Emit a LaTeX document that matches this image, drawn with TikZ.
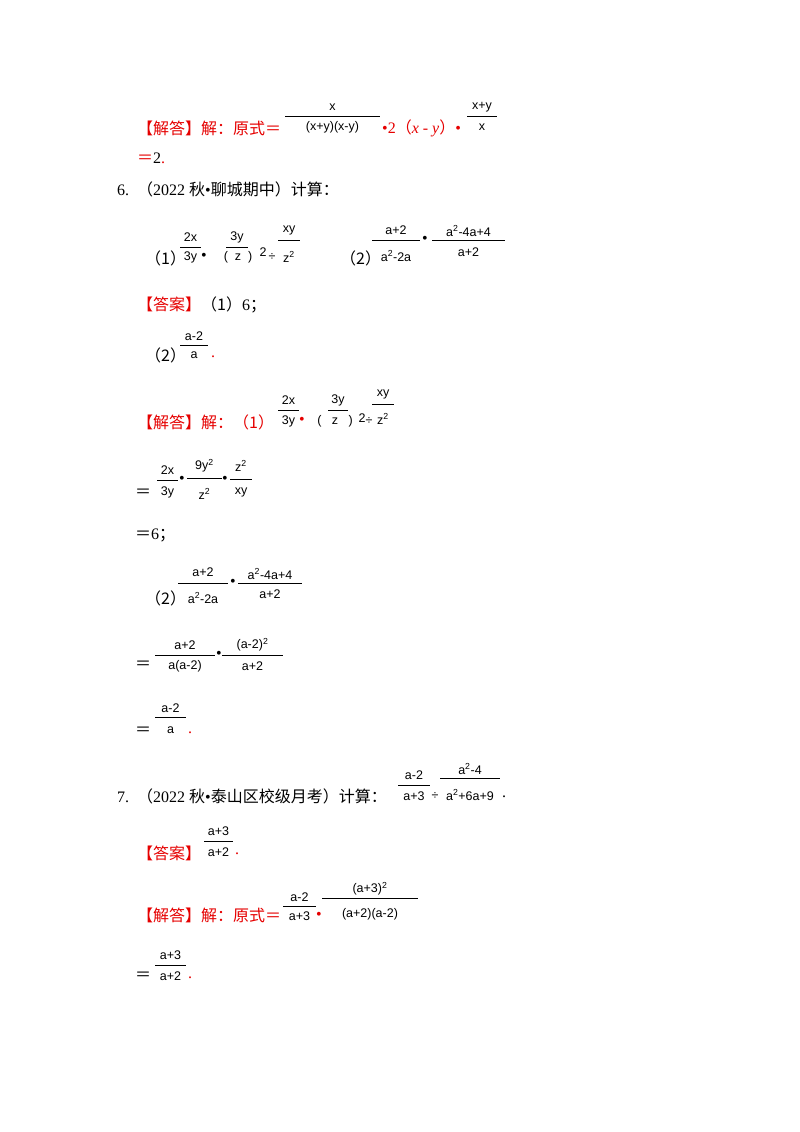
\documentclass[tikz,border=0pt]{standalone}
\usepackage{fontspec}
\setmainfont{Liberation Serif}
\newfontfamily\cjk{Noto Sans CJK SC}
\newfontfamily\frf{Liberation Sans}
\definecolor{ansred}{RGB}{230,0,0}
\newcommand\myfr[7]{%
 \node[frtext] at ({(#1+#2)/2},#3) {#6};
 \draw[frbar] (#1,#4) -- (#2,#4);
 \node[frtext] at ({(#1+#2)/2},#5) {#7};}
\newcommand\su{\textsuperscript{2}}
\begin{document}
\begin{tikzpicture}[x=1pt,y=-1pt,
 frtext/.style={inner sep=0pt,font=\frf\fontsize{12.5}{14}\selectfont},
 frbar/.style={line width=0.7pt},
 txt/.style={anchor=west,inner sep=0pt,font=\fontsize{16}{18}\selectfont},
 red/.style={text=ansred}]
\useasboundingbox[fill=white] (0,0) rectangle (800,1132);
% line 1
\node[txt,red] (l1) at (137,128) {\cjk 【解答】解：原式＝};
\myfr{285}{380}{107}{116}{127}{x}{(x+y)(x-y)}
\node[txt,red] at (382,128) {•2{\cjk（}\textit{x} - \textit{y}{\cjk）}•};
\myfr{467}{497}{107}{116}{127}{x+y}{x}
\node[txt] at (137,158) {{\color{ansred}\cjk ＝}2{\color{ansred}.}};
% problem 6
\node[txt] at (117,189) {6.\ \ {\cjk（}2022 {\cjk 秋}•{\cjk 聊城期中）计算：}};
\node[txt] at (145,258) {\cjk（1）};
\myfr{180}{201}{237}{247}{257}{2x}{3y}
\node[txt] at (201,257) {•};
\myfr{226}{248}{237}{247}{0}{3y}{}
\node[frtext] at (238,257) {( \ z \ )};
\node[frtext] at (263,252) {2};
\node[frtext] at (272,257) {÷};
\myfr{278}{300}{230}{240}{257}{xy}{z\su}
\node[txt] at (340,258) {\cjk（2）};
\myfr{372}{420}{230}{240}{256}{a+2}{a\su -2a}
\node[txt] at (422,240) {•};
\myfr{432}{505}{231}{240}{252}{a\su -4a+4}{a+2}
\node[txt] at (137,305) {{\color{ansred}\cjk 【答案】}{\cjk（1）}6{\cjk ；}};
\node[txt] at (145,355) {\cjk（2）};
\myfr{180}{208}{336}{345}{355}{a-2}{a}
\node[txt,red] at (211,357) {.};
% solution 6
\node[txt,red] at (137,422) {\cjk 【解答】解：（1）};
\myfr{278}{299}{400}{410}{421}{2x}{3y}
\node[txt,red] at (299,421) {•};
\myfr{328}{348}{400}{410}{0}{3y}{}
\node[frtext] at (335,421) {( \ \ z \ \ )};
\node[frtext] at (362,418) {2};
\node[frtext] at (369,421) {÷};
\myfr{372}{394}{394}{404}{419}{xy}{z\su}
\node[txt] at (135,493) {\cjk ＝};
\myfr{157}{178}{470}{480}{492}{2x}{3y}
\node[txt] at (179,480) {•};
\myfr{187}{222}{466}{478}{494}{9y\su}{z\su}
\node[txt] at (222,480) {•};
\myfr{230}{252}{466}{479}{492}{z\su}{xy}
\node[txt] at (135,535) {{\cjk ＝}6{\cjk ；}};
\node[txt] at (145,598) {\cjk（2）};
\myfr{178}{228}{572}{583}{598}{a+2}{a\su -2a}
\node[txt] at (230,583) {•};
\myfr{238}{302}{574}{583}{594}{a\su -4a+4}{a+2}
\node[txt] at (135,665) {\cjk ＝};
\myfr{155}{215}{645}{655}{666}{a+2}{a(a-2)}
\node[txt] at (216,655) {•};
\myfr{222}{283}{645}{655}{666}{(a-2)\su}{a+2}
\node[txt] at (135,731) {\cjk ＝};
\myfr{155}{186}{708}{717}{730}{a-2}{a}
\node[txt,red] at (188,733) {.};
% problem 7
\node[txt] at (117,796) {7.\ \ {\cjk（}2022 {\cjk 秋}•{\cjk 泰山区校级月考）计算：}};
\myfr{398}{430}{775}{785}{796}{a-2}{a+3}
\node[frtext] at (435,796) {÷};
\myfr{440}{500}{769}{778}{795}{a\su -4}{a\su +6a+9}
\node[txt] at (502,797) {.};
\node[txt,red] at (137,853) {\cjk 【答案】};
\myfr{204}{233}{831}{841}{852}{a+3}{a+2}
\node[txt,red] at (235,854) {.};
\node[txt,red] at (137,915) {\cjk 【解答】解：原式＝};
\myfr{283}{316}{897}{906}{916}{a-2}{a+3}
\node[txt,red] at (316,916) {•};
\myfr{322}{418}{889}{898}{914}{(a+3)\su}{(a+2)(a-2)}
\node[txt] at (135,976) {\cjk ＝};
\myfr{155}{186}{955}{965}{976}{a+3}{a+2}
\node[txt,red] at (188,978) {.};
\end{tikzpicture}
\end{document}
